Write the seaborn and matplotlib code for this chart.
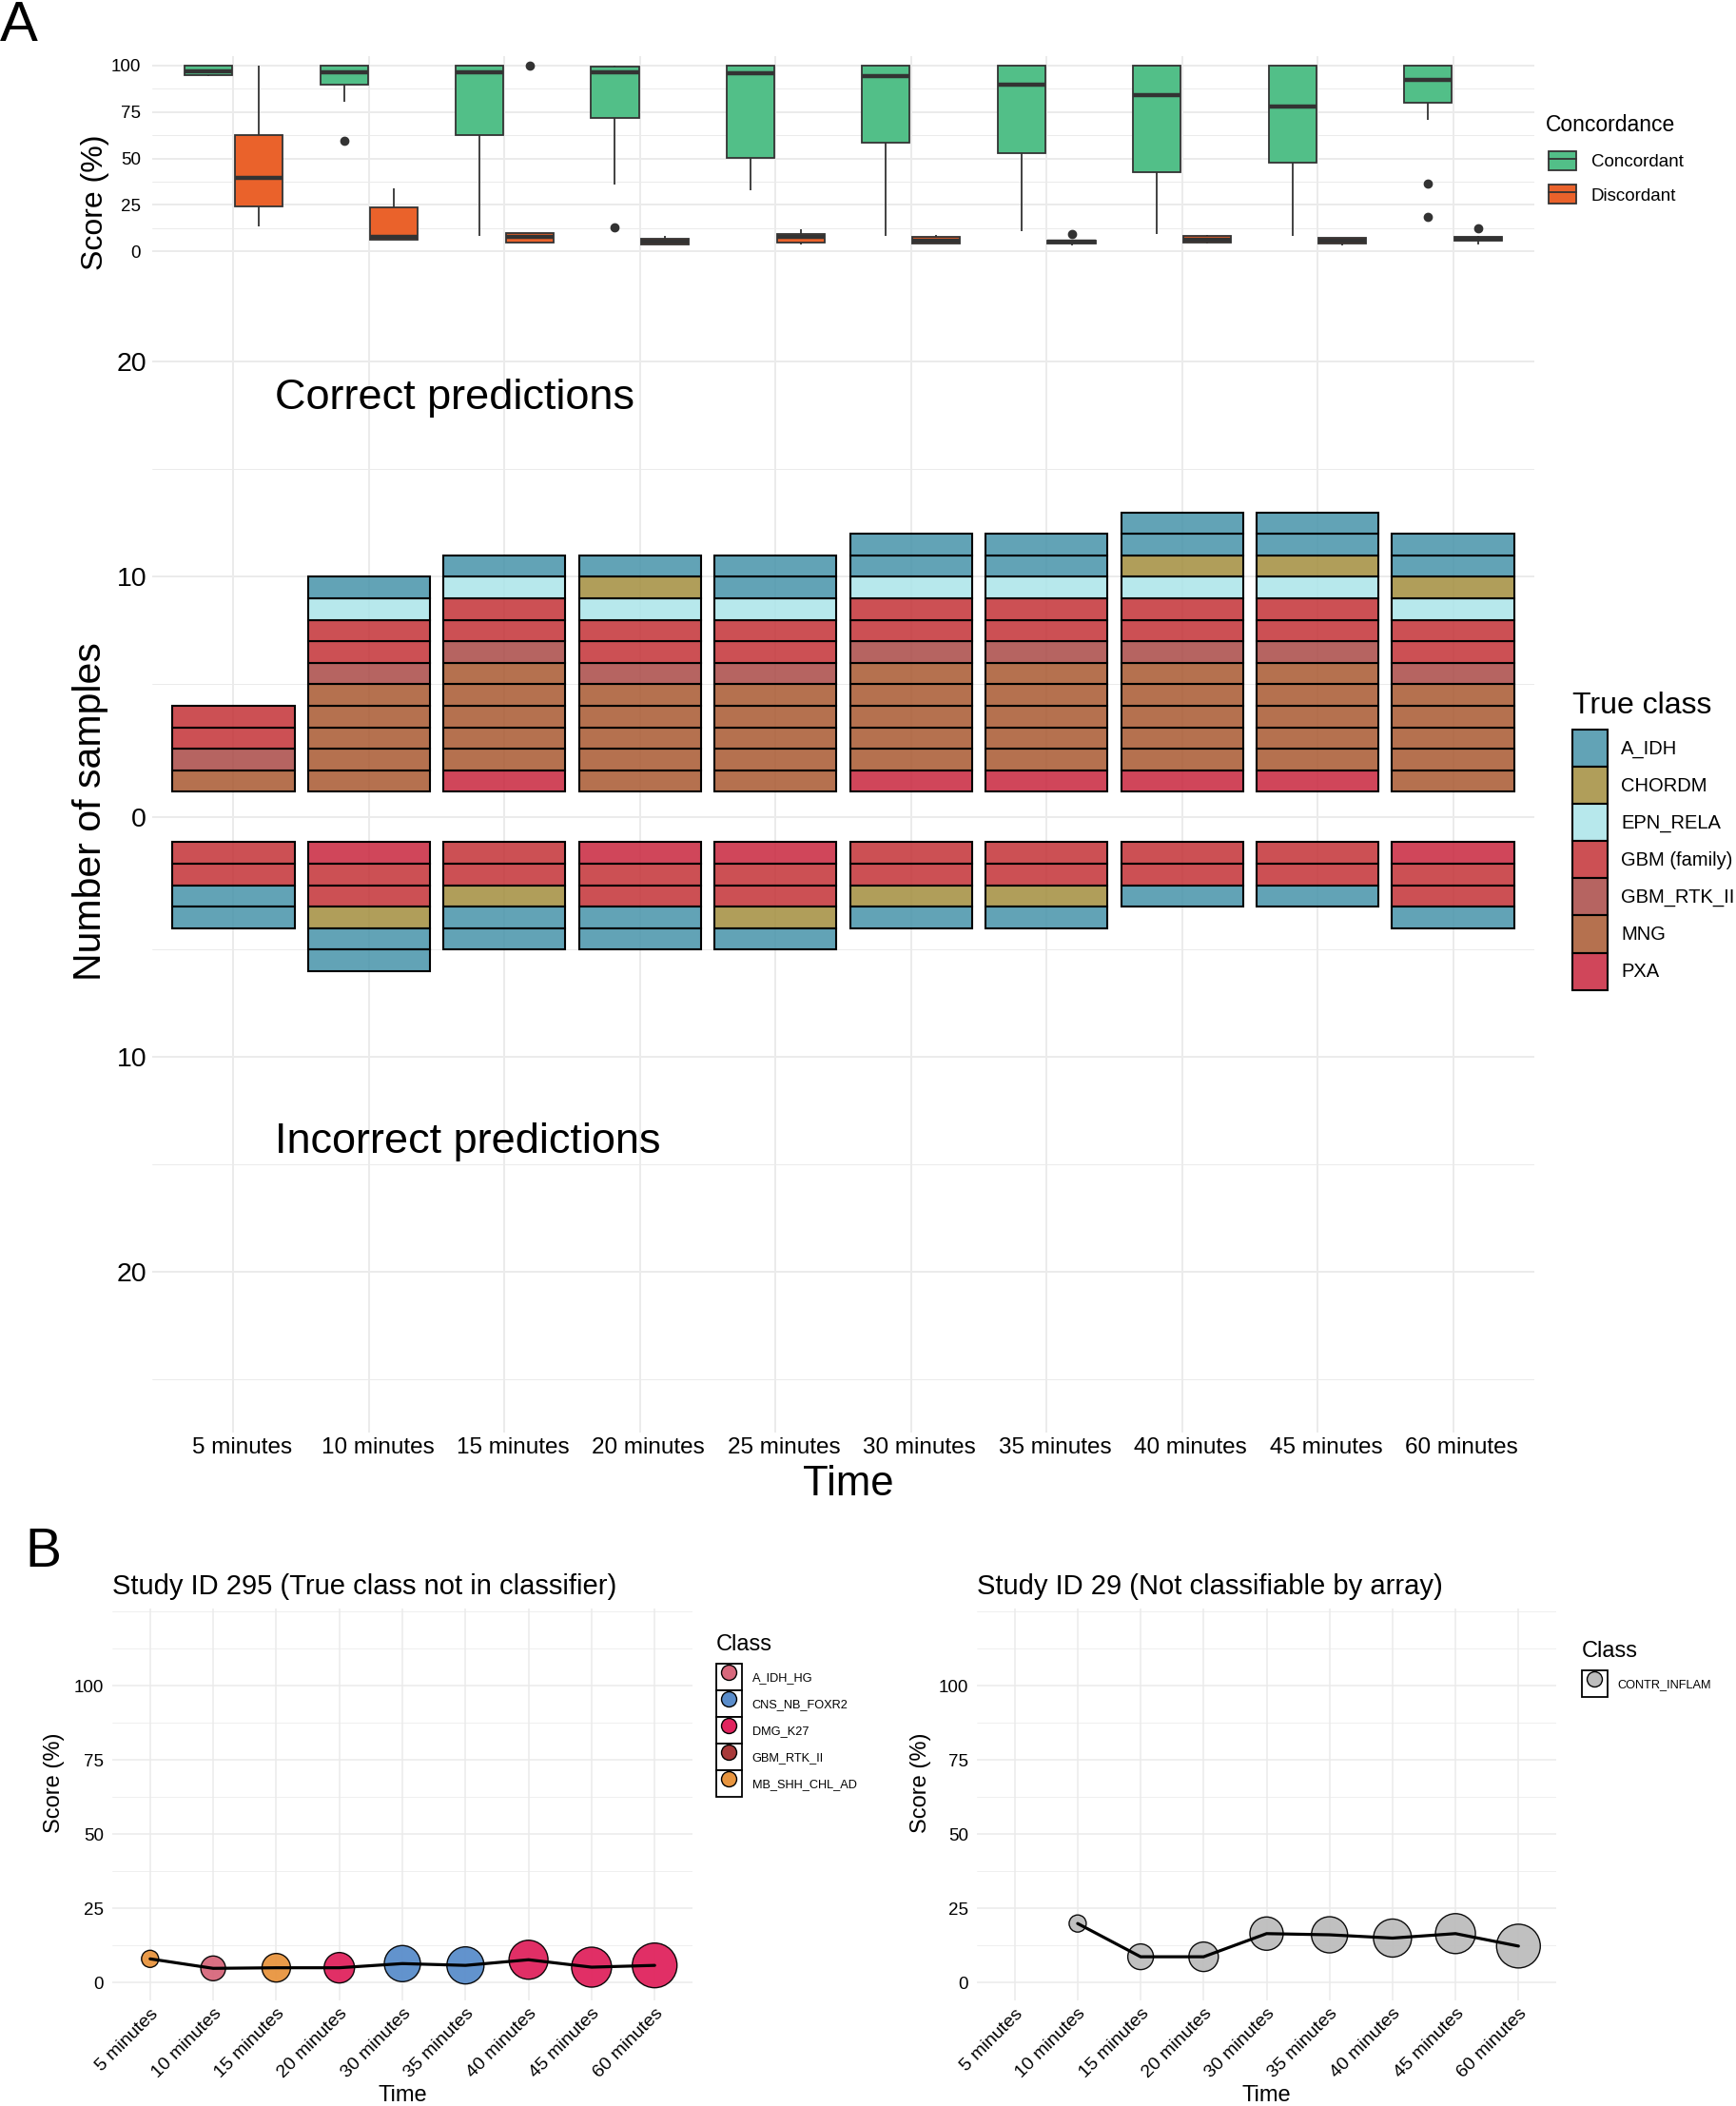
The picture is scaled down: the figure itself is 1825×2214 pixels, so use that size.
import seaborn as sns
import matplotlib.pyplot as plt
import pandas as pd
import numpy as np
from matplotlib.patches import Patch
from matplotlib.lines import Line2D
from matplotlib.legend_handler import HandlerTuple
from matplotlib.colors import to_rgba
from matplotlib.transforms import ScaledTranslation

# ---------------- Panel A data ----------------
times = ["5 minutes", "10 minutes", "15 minutes", "20 minutes", "25 minutes",
         "30 minutes", "35 minutes", "40 minutes", "45 minutes", "60 minutes"]

concordant_scores = [
    [94.5, 95, 97, 100, 100],
    [59.7, 80.6, 89.7, 93, 96.4, 98, 100, 100, 100],
    [8.1, 62.3, 96.4, 100, 100],
    [12.9, 36, 71.7, 90, 96.4, 98, 99.5, 100, 100],
    [33, 50.3, 95.7, 100, 100],
    [8.2, 58.3, 94.3, 100, 100],
    [11.1, 52.8, 89.5, 99.8, 100],
    [9.4, 42.4, 84, 100, 100],
    [8.2, 47.7, 78, 100, 100],
    [18.4, 36.4, 70.7, 79.8, 85, 90, 92.1, 95, 98, 100, 100, 100, 100],
]
discordant_scores = [
    [13.4, 24.4, 39.5, 62.6, 100],
    [6.5, 6.5, 7.7, 23.5, 33.8],
    [4.5, 4.8, 7.7, 9.8, 100],
    [3.9, 3.9, 5, 6.9, 8.2],
    [3.9, 4.8, 7.7, 9.4, 12],
    [4.3, 4.3, 5.5, 7.7, 8.6],
    [3.2, 3.6, 4.2, 4.6, 5.1, 5.5, 5.8, 6.0, 9.5],
    [4.3, 4.8, 6.5, 8.2, 8.6],
    [3.4, 4.3, 5.7, 7.4, 7.4],
    [3.9, 4.5, 5.5, 6.2, 6.9, 7.3, 7.8, 8.2, 12.5],
]
concordance_levels = ["Concordant", "Discordant"]
concordance_colors = ["#52BF88", "#EA622B"]

true_classes = ["A_IDH", "CHORDM", "EPN_RELA", "GBM (family)", "GBM_RTK_II", "MNG", "PXA"]
true_class_colors = ["#4693AA", "#A28D3D", "#ABE4E9", "#C43136", "#AA4945", "#A85830", "#C8263D"]

# number of samples per class (rows) and time point (columns)
correct_counts = [
    [0, 1, 1, 1, 2, 2, 2, 2, 2, 2],
    [0, 0, 0, 1, 0, 0, 0, 1, 1, 1],
    [0, 1, 1, 1, 1, 1, 1, 1, 1, 1],
    [2, 2, 2, 2, 2, 2, 2, 2, 2, 2],
    [1, 1, 1, 1, 1, 1, 1, 1, 1, 1],
    [1, 5, 5, 5, 5, 5, 5, 5, 5, 5],
    [0, 0, 1, 0, 0, 1, 1, 1, 1, 0],
]
incorrect_counts = [
    [2, 2, 2, 2, 1, 1, 1, 1, 1, 1],
    [0, 1, 1, 0, 1, 1, 1, 0, 0, 0],
    [0, 0, 0, 0, 0, 0, 0, 0, 0, 0],
    [2, 2, 2, 2, 2, 2, 2, 2, 2, 2],
    [0, 0, 0, 0, 0, 0, 0, 0, 0, 0],
    [0, 0, 0, 0, 0, 0, 0, 0, 0, 0],
    [0, 1, 0, 1, 1, 0, 0, 0, 0, 1],
]

# ---------------- Panel B data ----------------
b_times = ["5 minutes", "10 minutes", "15 minutes", "20 minutes", "30 minutes",
           "35 minutes", "40 minutes", "45 minutes", "60 minutes"]

id295_levels = ["A_IDH_HG", "CNS_NB_FOXR2", "DMG_K27", "GBM_RTK_II", "MB_SHH_CHL_AD"]
id295_colors = ["#D7687C", "#5A8DCB", "#E0245E", "#A83A3A", "#E8953F"]
id295_times = b_times
id295_class = ["MB_SHH_CHL_AD", "A_IDH_HG", "MB_SHH_CHL_AD", "DMG_K27", "CNS_NB_FOXR2",
               "CNS_NB_FOXR2", "DMG_K27", "DMG_K27", "DMG_K27"]
id295_score = [8.0, 4.8, 5.0, 5.0, 6.4, 5.8, 7.7, 5.2, 5.8]
id295_bubble = [18, 26, 30, 32, 38, 39, 41, 42, 47]

id29_levels = ["CONTR_INFLAM"]
id29_colors = ["#BDBDBD"]
id29_times = b_times[1:]
id29_class = ["CONTR_INFLAM"] * 8
id29_score = [19.9, 8.7, 8.7, 16.5, 16.1, 15.0, 16.5, 12.3]
id29_bubble = [18, 27, 31, 35, 38, 40, 42, 46]

# ---------------- styling ----------------
sns.set_theme(style="whitegrid")
plt.rcParams["font.family"] = ["Liberation Sans", "DejaVu Sans"]
plt.rcParams["grid.color"] = "#EBEBEB"
plt.rcParams["text.color"] = "black"
plt.rcParams["xtick.color"] = "black"
plt.rcParams["ytick.color"] = "black"
plt.rcParams["axes.labelcolor"] = "black"

W, H = 1825, 2214
fig = plt.figure(figsize=(W / 100, H / 100), dpi=100)


def px_axes(left, top, right, bottom):
    return fig.add_axes([left / W, 1 - bottom / H, (right - left) / W, (bottom - top) / H])


def clean(ax):
    for s in ax.spines.values():
        s.set_visible(False)
    ax.tick_params(which="both", length=0)
    ax.set_axisbelow(True)


def shift_labels(labels, dx_px):
    for lab in labels:
        lab.set_transform(lab.get_transform() + ScaledTranslation(dx_px / 100, 0, fig.dpi_scale_trans))


GAP = 1.17  # offset between the zero line and the stacked tiles

# ---------------- A: boxplots ----------------
rows = []
for t, vals in zip(times, concordant_scores):
    rows += [(t, "Concordant", v) for v in vals]
for t, vals in zip(times, discordant_scores):
    rows += [(t, "Discordant", v) for v in vals]
df_box = pd.DataFrame(rows, columns=["Time", "Concordance", "Score"])

ax_box = px_axes(160, 59, 1613, 274)
sns.boxplot(data=df_box, x="Time", y="Score", hue="Concordance", order=times,
            hue_order=concordance_levels, palette=concordance_colors, saturation=1,
            width=0.74, gap=0.05, linecolor="#333333", linewidth=1.3, showcaps=False,
            medianprops={"linewidth": 3.2, "color": "#333333"},
            flierprops={"marker": "o", "markerfacecolor": "#333333",
                        "markeredgecolor": "#333333", "markersize": 6},
            legend=False, ax=ax_box)
clean(ax_box)
ax_box.set_xlim(-0.6, len(times) - 0.4)
ax_box.set_ylim(-5, 105)
ax_box.set_xticks(range(len(times)))
ax_box.set_xticklabels([])
ax_box.set_yticks([0, 25, 50, 75, 100])
ax_box.set_yticks([12.5, 37.5, 62.5, 87.5], minor=True)
ax_box.grid(True, which="major", lw=1.4)
ax_box.grid(True, which="minor", axis="y", lw=0.7)
ax_box.tick_params(axis="y", labelsize=13.5, pad=8.5)
ax_box.set_xlabel("")
ax_box.set_ylabel("Score (%)", fontsize=23)
ax_box.yaxis.label.set_va("center")
ax_box.yaxis.set_label_coords(-0.0413, 0.285)

# ---------------- A: stacked sample tiles ----------------
ax_bar = px_axes(160, 274, 1613, 1506)
for sign, counts in [(1, correct_counts), (-1, incorrect_counts)]:
    for i in range(len(times)):
        level = 0
        for c in reversed(range(len(true_classes))):
            for _ in range(counts[c][i]):
                bottom = GAP + level if sign > 0 else -(GAP + level + 1)
                ax_bar.bar(i, 1, bottom=bottom, width=0.9,
                           facecolor=to_rgba(true_class_colors[c], 0.85),
                           edgecolor="black", linewidth=1.5, zorder=2)
                level += 1
clean(ax_bar)
ax_bar.set_xlim(-0.6, len(times) - 0.4)
ax_bar.set_ylim(-28.63, 25.88)
ax_bar.set_xticks(range(len(times)))
ax_bar.set_xticklabels(times, fontsize=17.5)
ax_bar.set_yticks([-(GAP + 20), -(GAP + 10), 0, GAP + 10, GAP + 20])
ax_bar.set_yticklabels(["20", "10", "0", "10", "20"], fontsize=20.5)
ax_bar.set_yticks([-(GAP + 25), -(GAP + 15), -(GAP + 5), GAP + 5, GAP + 15], minor=True)
ax_bar.grid(True, which="major", lw=1.4)
ax_bar.grid(True, which="minor", axis="y", lw=0.7)
ax_bar.tick_params(axis="y", pad=4.3)
ax_bar.tick_params(axis="x", pad=3.6)
shift_labels(ax_bar.get_xticklabels(), 9)
ax_bar.text(0.306, 19.5, "Correct predictions", fontsize=32.5, va="center", ha="left")
ax_bar.text(0.306, -15.1, "Incorrect predictions", fontsize=32.5, va="center", ha="left")
ax_bar.set_ylabel("Number of samples", fontsize=29.5)
ax_bar.yaxis.label.set_va("center")
ax_bar.yaxis.set_label_coords(-0.0447, 0.530)
ax_bar.set_xlabel("Time", fontsize=31.5)
ax_bar.xaxis.label.set_va("center")
ax_bar.xaxis.set_label_coords(0.504, -0.0439)

# legends of panel A
conc_handles = [(Patch(facecolor=c, edgecolor="#333333", linewidth=1.3),
                 Line2D([], [], color="#333333", lw=1.3)) for c in concordance_colors]
fig.legend(conc_handles, concordance_levels, handler_map={tuple: HandlerTuple(ndivide=1)},
           loc="upper left", bbox_to_anchor=(1628 / W, 1 - 159 / H), frameon=False,
           fontsize=13.5, handlelength=1.55, handleheight=1.26, labelspacing=0.8,
           handletextpad=0.85, borderpad=0, borderaxespad=0)
fig.text(1625 / W, 1 - 138 / H, "Concordance", fontsize=16.5, ha="left", va="baseline")

tc_handles = [Patch(facecolor=to_rgba(c, 0.85), edgecolor="black", linewidth=1.5)
              for c in true_class_colors]
fig.legend(tc_handles, true_classes, loc="upper left", bbox_to_anchor=(1653 / W, 1 - 767 / H),
           frameon=False, fontsize=14.5, handlelength=1.84, handleheight=2.61,
           labelspacing=0, handletextpad=0.7, borderpad=0, borderaxespad=0)
fig.text(1653 / W, 1 - 750 / H, "True class", fontsize=23, ha="left", va="baseline")

# ---------------- B: score trajectories ----------------
all_bubbles = id295_bubble + id29_bubble
amin, amax = min(all_bubbles) ** 2, max(all_bubbles) ** 2
k = 0.72 ** 2  # px diameter -> points^2 area


def trajectory(ax, t, score, cls, bubble, levels, colors, title):
    df = pd.DataFrame({"x": [b_times.index(v) for v in t], "Score": score,
                       "Class": cls, "area": np.square(bubble)})
    sns.scatterplot(data=df, x="x", y="Score", hue="Class", hue_order=levels,
                    palette=dict(zip(levels, colors)), size="area",
                    sizes=(k * amin, k * amax), size_norm=(amin, amax),
                    edgecolor="black", linewidth=1, alpha=0.95, legend=False, ax=ax)
    sns.lineplot(data=df, x="x", y="Score", color="black", lw=2.3, ax=ax, zorder=3)
    clean(ax)
    ax.set_xlim(-0.6, len(b_times) - 0.4)
    ax.set_ylim(-6, 126)
    ax.set_xticks(range(len(b_times)))
    ax.set_xticklabels(b_times, rotation=45, ha="right", va="top",
                       rotation_mode="anchor", fontsize=14)
    ax.set_yticks([0, 25, 50, 75, 100])
    ax.set_yticks([12.5, 37.5, 62.5, 87.5, 112.5, 125], minor=True)
    ax.grid(True, which="major", lw=1.1)
    ax.grid(True, which="minor", axis="y", lw=0.55)
    ax.tick_params(axis="y", labelsize=13.5, pad=6.5)
    ax.tick_params(axis="x", pad=4)
    ax.set_title(title, loc="left", fontsize=21, pad=10.8)
    ax.set_xlabel("Time", fontsize=17)
    ax.xaxis.label.set_va("center")
    ax.xaxis.set_label_coords(0.5, -0.243)
    ax.set_ylabel("Score (%)", fontsize=17)
    ax.yaxis.label.set_va("center")


ax_b1 = px_axes(118, 1691, 728, 2103)
trajectory(ax_b1, id295_times, id295_score, id295_class, id295_bubble, id295_levels,
           id295_colors, "Study ID 295 (True class not in classifier)")
ax_b1.yaxis.set_label_coords(-0.1, 0.556)

ax_b2 = px_axes(1027, 1691, 1636, 2103)
trajectory(ax_b2, id29_times, id29_score, id29_class, id29_bubble, id29_levels,
           id29_colors, "Study ID 29 (Not classifiable by array)")
ax_b2.yaxis.set_label_coords(-0.097, 0.556)


def class_legend(levels, colors, x, y_top, title_base):
    handles = [(Patch(facecolor="white", edgecolor="black", linewidth=1.3),
                Line2D([], [], ls="", marker="o", ms=11.5, mfc=c, mec="black", mew=1))
               for c in colors]
    fig.legend(handles, levels, handler_map={tuple: HandlerTuple(ndivide=1)},
               loc="upper left", bbox_to_anchor=(x / W, 1 - y_top / H), frameon=False,
               fontsize=9.2, handlelength=2.1, handleheight=2.99, labelspacing=0,
               handletextpad=0.86, borderpad=0, borderaxespad=0)
    fig.text(x / W, 1 - title_base / H, "Class", fontsize=17, ha="left", va="baseline")


class_legend(id295_levels, id295_colors, 753, 1749, 1735)
class_legend(id29_levels, id29_colors, 1663, 1756, 1742)

# panel letters
fig.text(0.0, 1 - 43 / H, "A", fontsize=43, ha="left", va="baseline")
fig.text(26 / W, 1 - 1647 / H, "B", fontsize=41, ha="left", va="baseline")

fig.savefig("out.png", dpi=100)
plt.close(fig)
